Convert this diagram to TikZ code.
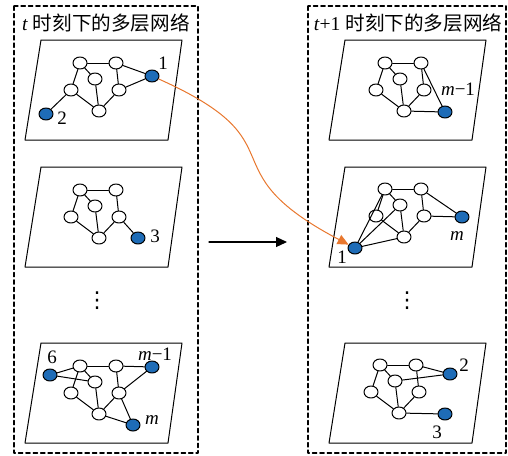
\documentclass[tikz,border=0pt]{standalone}
\usepackage{fontspec}
\setmainfont{Liberation Serif}
\newfontfamily\cjk{Noto Sans CJK SC}
\newfontfamily\symfont{DejaVu Sans}
\usetikzlibrary{arrows.meta}
\usetikzlibrary{shapes.geometric}

\definecolor{hubblue}{RGB}{30,108,183}
\definecolor{linkorange}{RGB}{232,119,46}

\tikzset{
  plain/.style={ellipse,draw,fill=white,minimum width=7pt,minimum height=6pt,inner sep=0pt},
  hub/.style={plain,fill=hubblue},
  lbl/.style={inner sep=0pt,font=\fontsize{9.5}{11}\selectfont},
  heading/.style={inner sep=0pt,font=\fontsize{9.8}{12}\selectfont},
  gapdots/.style={inner sep=0pt,font=\symfont\fontsize{11}{12}\selectfont},
  frame/.style={draw,dash pattern=on 2.2pt off 1.5pt,line width=0.55pt},
}

% one layer plane, bottom left corner given
\newcommand{\netplane}[2]{\draw (#1,#2) -- ++(16,-100) -- ++(141,0) -- ++(-14,100) -- cycle;}
% the six inner nodes of a layer and their links
\newcommand{\corenet}[3]{%
  \foreach \n/\dx/\dy in {a/0/0,b/36/0,c/15/16,d/-9/27,e/39/27,f/19/48}
    \node[plain] (#1\n) at (#2+\dx,#3+\dy) {};
  \foreach \u/\v in {a/b,a/c,a/d,b/e,c/f,d/f,e/f}
    \draw (#1\u) -- (#1\v);
}

\begin{document}
\begin{tikzpicture}[x=0.5pt,y=-0.5pt,line width=0.5pt,line cap=round,line join=round,>={Triangle[length=5.5pt,width=5pt]}]
\useasboundingbox (0,0) rectangle (508,455);
\draw[frame] (14,6) rectangle (198,453);
\draw[frame] (308,6) rectangle (506,453);
\node[heading] (lhead) at (106,23) {\textit{t} {\cjk 时刻下的多层网络}};
\node[heading] (rhead) at (408,23) {\textit{t}+1 {\cjk 时刻下的多层网络}};
\netplane{25}{140}
\netplane{25}{267}
\netplane{25}{443}
\netplane{329}{140}
\netplane{329}{267}
\netplane{329}{443}
% time t
\corenet{la}{80}{63}
\node[hub] (la1) at (152,76) {};
\node[hub] (la2) at (46,114) {};
\draw (lab) -- (la1);
\draw (lae) -- (la1);
\draw (lad) -- (la2);
\node[lbl] (la1t) at (163,63) {1};
\node[lbl] (la2t) at (62,118) {2};
\corenet{lb}{80}{190}
\node[hub] (lb3) at (138,238) {};
\draw (lbe) -- (lb3);
\node[lbl] (lb3t) at (155,236) {3};
\corenet{lc}{80}{366}
\node[hub] (lc6) at (50,375) {};
\node[hub] (lcm1) at (152,367) {};
\node[hub] (lcm) at (133,425) {};
\draw (lc6) -- (lca);
\draw (lc6) -- (lcc);
\draw (lcb) -- (lcm1);
\draw (lce) -- (lcm1);
\draw (lce) -- (lcm);
\draw (lcf) -- (lcm);
\node[lbl] (lc6t) at (52,357) {6};
\node[lbl] (lcm1t) at (155,354) {\textit{m}−1};
\node[lbl] (lcmt) at (152,420) {\textit{m}};
% time t+1
\corenet{ra}{385}{63}
\node[hub] (ram1) at (445,112) {};
\draw (raf) -- (ram1);
\draw (rab) -- (ram1);
\node[lbl] (ram1t) at (458,89) {\textit{m}−1};
\corenet{rb}{385}{189}
\node[hub] (rbm) at (462,217) {};
\node[hub] (rb1) at (355,248) {};
\draw (rbe) -- (rbm);
\draw (rbb) -- (rbm);
\draw (rb1) -- (rba);
\draw (rb1) -- (rbc);
\draw (rb1) -- (rbf);
\node[lbl] (rbmt) at (457,236) {\textit{m}};
\node[lbl] (rb1t) at (342,257) {1};
\corenet{rc}{380}{365}
\node[hub] (rc2) at (450,374) {};
\node[hub] (rc3) at (445,414) {};
\draw (rcb) -- (rc2);
\draw (rcc) -- (rc2);
\draw (rcf) -- (rc3);
\node[lbl] (rc2t) at (464,365) {2};
\node[lbl] (rc3t) at (437,432) {3};
% gaps and links between the two times
\node[gapdots] (ldots) at (97,301) {⋮};
\node[gapdots] (rdots) at (407,301) {⋮};
\coordinate (arrs) at (209,242);
\coordinate (arre) at (287,242);
\draw[->,line width=0.6pt] (arrs) -- (arre);
\draw[->,linkorange] (la1) .. controls (304,144) and (203,168) .. (rb1);
\end{tikzpicture}
\end{document}
